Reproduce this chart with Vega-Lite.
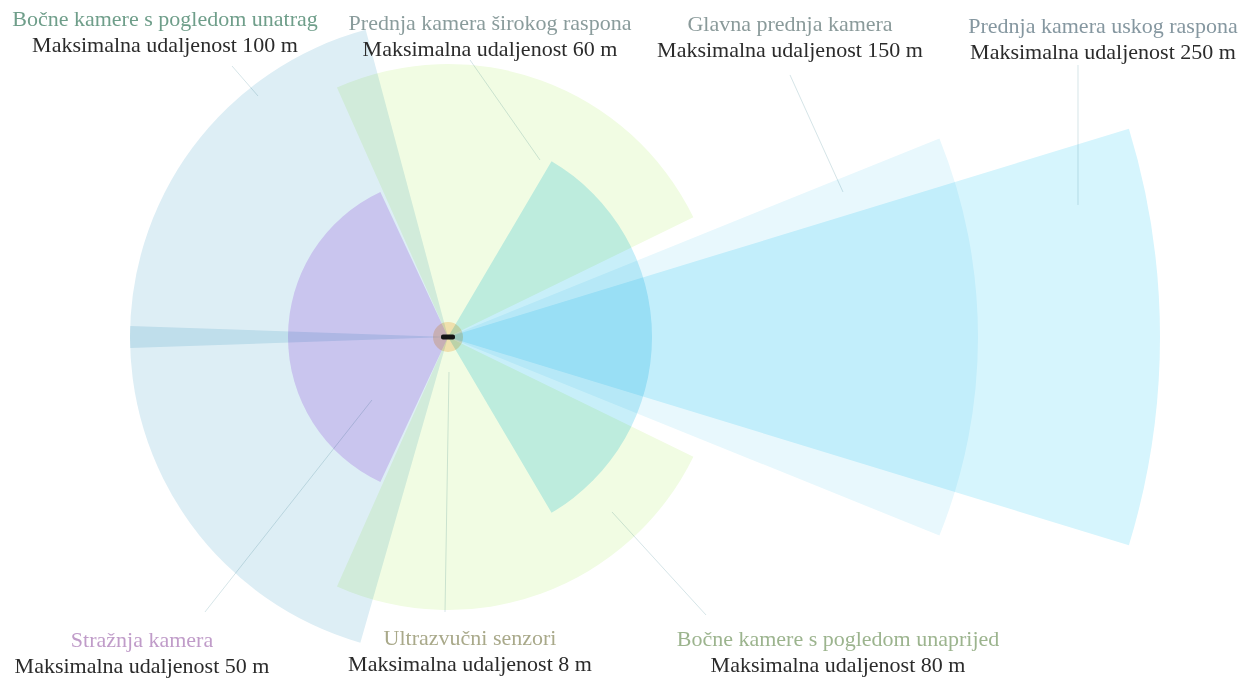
{
  "$schema": "https://vega.github.io/schema/vega-lite/v6.json",
  "width": 1250,
  "height": 681,
  "padding": 0,
  "autosize": {"type": "none"},
  "background": "white",
  "config": {"view": {"stroke": null}},
  "datasets": {
    "sectors": [
      {"sensor": "Bočne kamere s pogledom unatrag", "side": "lijevo", "start": 268, "end": 345, "range_m": 100},
      {"sensor": "Bočne kamere s pogledom unatrag", "side": "desno", "start": 196, "end": 272, "range_m": 100},
      {"sensor": "Stražnja kamera", "side": "straga", "start": 205, "end": 335, "range_m": 50},
      {"sensor": "Bočne kamere s pogledom unaprijed", "side": "lijevo", "start": -24, "end": 64, "range_m": 80},
      {"sensor": "Bočne kamere s pogledom unaprijed", "side": "desno", "start": 116, "end": 204, "range_m": 80},
      {"sensor": "Prednja kamera širokog raspona", "side": "naprijed", "start": 30.5, "end": 149.5, "range_m": 60},
      {"sensor": "Glavna prednja kamera", "side": "naprijed", "start": 68, "end": 112, "range_m": 150},
      {"sensor": "Prednja kamera uskog raspona", "side": "naprijed", "start": 73, "end": 107, "range_m": 250},
      {"sensor": "Ultrazvučni senzori", "side": "okolo", "start": 0, "end": 360, "range_m": 8}
    ],
    "labels": [
      {"sensor": "Bočne kamere s pogledom unatrag", "subtitle": "Maksimalna udaljenost 100 m", "lx": -88.99, "ly": 97.8},
      {"sensor": "Prednja kamera širokog raspona", "subtitle": "Maksimalna udaljenost 60 m", "lx": 13.21, "ly": 96.54},
      {"sensor": "Glavna prednja kamera", "subtitle": "Maksimalna udaljenost 150 m", "lx": 107.55, "ly": 96.23},
      {"sensor": "Prednja kamera uskog raspona", "subtitle": "Maksimalna udaljenost 250 m", "lx": 205.97, "ly": 95.6},
      {"sensor": "Stražnja kamera", "subtitle": "Maksimalna udaljenost 50 m", "lx": -96.23, "ly": -97.6},
      {"sensor": "Ultrazvučni senzori", "subtitle": "Maksimalna udaljenost 8 m", "lx": 6.92, "ly": -96.9},
      {"sensor": "Bočne kamere s pogledom unaprijed", "subtitle": "Maksimalna udaljenost 80 m", "lx": 122.64, "ly": -97.2}
    ],
    "pointers": [
      {"sensor": "Bočne kamere s pogledom unatrag", "x1": -67.92, "y1": 85.22, "x2": -59.75, "y2": 75.79},
      {"sensor": "Prednja kamera širokog raspona", "x1": 6.92, "y1": 87.11, "x2": 28.93, "y2": 55.66},
      {"sensor": "Glavna prednja kamera", "x1": 107.55, "y1": 82.39, "x2": 124.21, "y2": 45.6},
      {"sensor": "Prednja kamera uskog raspona", "x1": 198.11, "y1": 85.53, "x2": 198.11, "y2": 41.51},
      {"sensor": "Stražnja kamera", "x1": -76.42, "y1": -86.48, "x2": -23.9, "y2": -19.81},
      {"sensor": "Ultrazvučni senzori", "x1": -0.94, "y1": -86.48, "x2": 0.31, "y2": -11.01},
      {"sensor": "Bočne kamere s pogledom unaprijed", "x1": 81.13, "y1": -87.42, "x2": 51.57, "y2": -55.03}
    ],
    "car": [
      {"name": "vozilo", "x1": -2.2, "x2": 2.2, "y1": -0.8, "y2": 0.8}
    ]
  },
  "layer": [
    {
      "data": {"name": "pointers"},
      "mark": {"type": "rule", "color": "#d6e5e8", "strokeWidth": 1},
      "encoding": {
        "x": {"field": "x1", "type": "quantitative", "scale": {"domain": [-140.88, 252.2], "nice": false, "zero": false}, "axis": null},
        "y": {"field": "y1", "type": "quantitative", "scale": {"domain": [-108.18, 105.97], "nice": false, "zero": false}, "axis": null},
        "x2": {"field": "x2"},
        "y2": {"field": "y2"}
      }
    },
    {
      "data": {"name": "sectors"},
      "mark": {"type": "arc", "blend": "multiply"},
      "encoding": {
        "x": {"datum": 0, "type": "quantitative", "scale": {"domain": [-140.88, 252.2], "nice": false, "zero": false}, "axis": null},
        "y": {"datum": 0, "type": "quantitative", "scale": {"domain": [-108.18, 105.97], "nice": false, "zero": false}, "axis": null},
        "theta": {"field": "start", "type": "quantitative", "stack": null, "scale": {"domain": [0, 360], "range": [0, 6.283185307]}},
        "theta2": {"field": "end"},
        "radius": {"field": "range_m", "type": "quantitative", "scale": {"type": "linear", "domain": [0, 8, 50, 60, 80, 100, 150, 250], "range": [0, 15, 160, 204, 273, 318, 530, 712], "zero": false, "nice": false}},
        "color": {
          "field": "sensor",
          "type": "nominal",
          "scale": {
            "domain": ["Bočne kamere s pogledom unatrag", "Stražnja kamera", "Ultrazvučni senzori", "Prednja kamera širokog raspona", "Glavna prednja kamera", "Prednja kamera uskog raspona", "Bočne kamere s pogledom unaprijed"],
            "range": ["#ddeef5", "#e8d3f8", "#fde3c2", "#c8eff9", "#e8f8fd", "#d6f5fd", "#f1fce3"]
          },
          "legend": null
        }
      }
    },
    {
      "data": {"name": "car"},
      "mark": {"type": "rect", "color": "#141414", "cornerRadius": 2},
      "encoding": {
        "x": {"field": "x1", "type": "quantitative", "scale": {"domain": [-140.88, 252.2], "nice": false, "zero": false}, "axis": null},
        "x2": {"field": "x2"},
        "y": {"field": "y1", "type": "quantitative", "scale": {"domain": [-108.18, 105.97], "nice": false, "zero": false}, "axis": null},
        "y2": {"field": "y2"}
      }
    },
    {
      "data": {"name": "labels"},
      "mark": {"type": "text", "font": "Liberation Serif", "fontSize": 22, "align": "center", "baseline": "alphabetic"},
      "encoding": {
        "x": {"field": "lx", "type": "quantitative", "scale": {"domain": [-140.88, 252.2], "nice": false, "zero": false}, "axis": null},
        "y": {"field": "ly", "type": "quantitative", "scale": {"domain": [-108.18, 105.97], "nice": false, "zero": false}, "axis": null},
        "text": {"field": "sensor"},
        "fill": {
          "field": "sensor",
          "type": "nominal",
          "scale": {
            "domain": ["Bočne kamere s pogledom unatrag", "Stražnja kamera", "Ultrazvučni senzori", "Prednja kamera širokog raspona", "Glavna prednja kamera", "Prednja kamera uskog raspona", "Bočne kamere s pogledom unaprijed"],
            "range": ["#6f9e8a", "#c09cc9", "#a9a98a", "#8a9c9c", "#8a9a9a", "#8597a0", "#9cb48e"]
          },
          "legend": null
        }
      }
    },
    {
      "data": {"name": "labels"},
      "mark": {"type": "text", "font": "Liberation Serif", "fontSize": 22, "align": "center", "baseline": "alphabetic", "dy": 26, "color": "#2b2b2b"},
      "encoding": {
        "x": {"field": "lx", "type": "quantitative", "scale": {"domain": [-140.88, 252.2], "nice": false, "zero": false}, "axis": null},
        "y": {"field": "ly", "type": "quantitative", "scale": {"domain": [-108.18, 105.97], "nice": false, "zero": false}, "axis": null},
        "text": {"field": "subtitle"}
      }
    }
  ]
}
